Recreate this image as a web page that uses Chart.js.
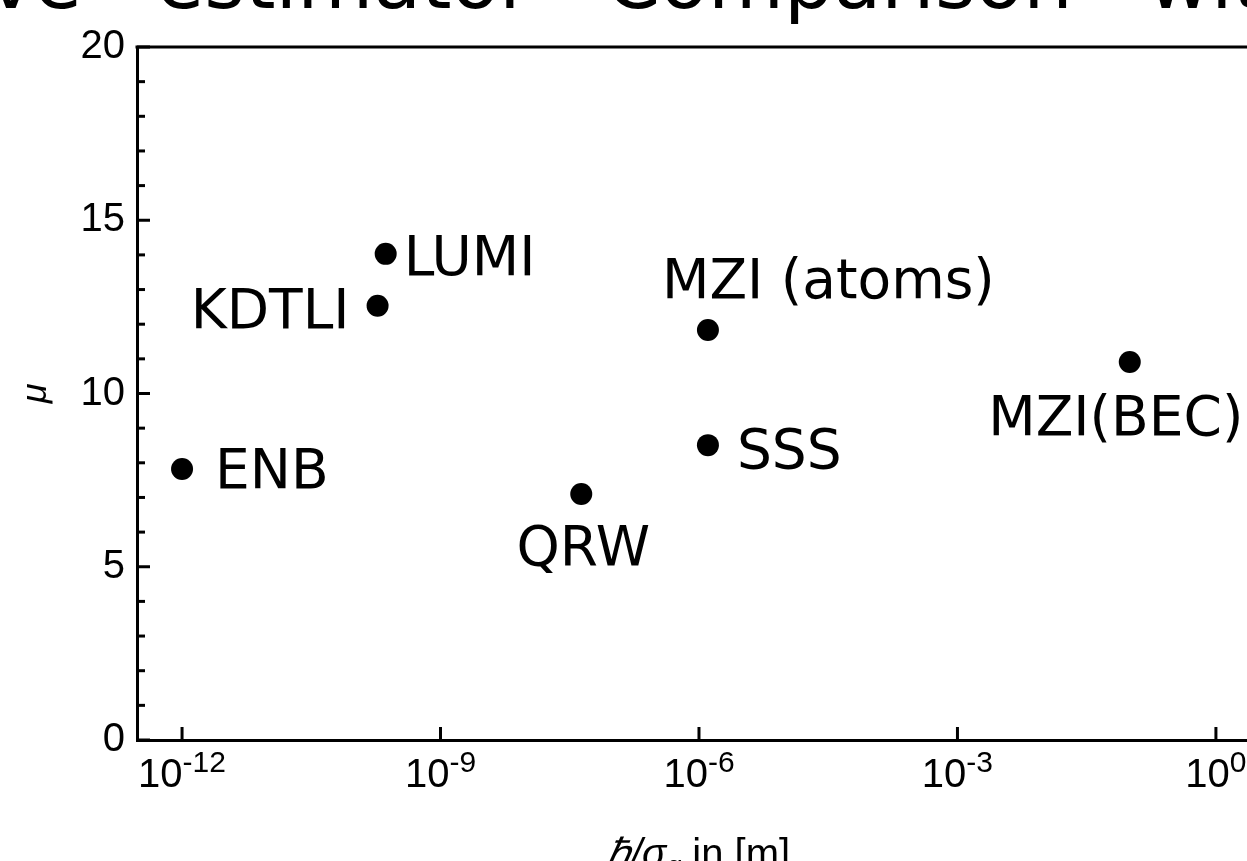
<!DOCTYPE html>
<html>
<head>
<meta charset="utf-8">
<script src="https://cdn.jsdelivr.net/npm/chart.js@4.4.0/dist/chart.umd.min.js"></script>
<style>
  html, body { margin: 0; padding: 0; background: #fff; overflow: hidden; width: 1247px; height: 861px; }
  #wrap { position: absolute; left: -140px; top: -69px; width: 2400px; height: 960px; }
</style>
</head>
<body>
<div id="wrap"><canvas id="c"></canvas></div>
<script>
// Experiments and their (length scale, mu) values
const experiments  = ['ENB', 'KDTLI', 'LUMI', 'QRW', 'MZI (atoms)', 'SSS', 'MZI(BEC)'];
const lengthScale  = [1e-12, 1.86e-10, 2.31e-10, 4.3e-8, 1.27e-6, 1.27e-6, 0.1];
const muValues     = [7.82, 12.53, 14.03, 7.10, 11.83, 8.51, 10.91];

// Axis ticks
const xTickExponents = [-12, -9, -6, -3, 0];
const yMajorStep = 5;
const yMinorStep = 1;

// Label placement relative to each marker (baseline offsets, px)
const labelPlacement = {
  'ENB':         { align: 'left',   dx: 33,  dy: 19 },
  'KDTLI':       { align: 'right',  dx: -28, dy: 22 },
  'LUMI':        { align: 'left',   dx: 18,  dy: 21 },
  'QRW':         { align: 'center', dx: 2,   dy: 71 },
  'MZI (atoms)': { align: 'left',   dx: -46, dy: -32 },
  'SSS':         { align: 'left',   dx: 29,  dy: 23 },
  'MZI(BEC)':    { align: 'center', dx: -14, dy: 73 }
};

const points = lengthScale.map((x, i) => ({ x: x, y: muValues[i] }));

const SANS = "'Liberation Sans', Arial, sans-serif";
const DEJAVU = "'DejaVu Sans', sans-serif";

// Inward tick marks, top frame line, x tick labels, x axis title and point labels
const decorations = {
  id: 'decorations',
  afterDraw(chart) {
    const ctx = chart.ctx;
    const area = chart.chartArea;
    const xs = chart.scales.x;
    const ys = chart.scales.y;
    ctx.save();
    ctx.strokeStyle = '#000';
    ctx.lineWidth = 3;
    ctx.lineCap = 'butt';

    // top frame line
    ctx.beginPath();
    ctx.moveTo(area.left - 1.5, area.top);
    ctx.lineTo(area.right + 1.5, area.top);
    ctx.stroke();

    // y ticks (major + minor), pointing into the plot
    for (let v = ys.min; v <= ys.max + 1e-9; v += yMinorStep) {
      const py = ys.getPixelForValue(v);
      const len = (Math.abs(v % yMajorStep) < 1e-9) ? 13 : 8;
      ctx.beginPath();
      ctx.moveTo(area.left, py);
      ctx.lineTo(area.left + len, py);
      ctx.stroke();
    }

    // x ticks at decades, pointing into the plot
    xTickExponents.forEach(e => {
      const px = xs.getPixelForValue(Math.pow(10, e));
      ctx.beginPath();
      ctx.moveTo(px, area.bottom);
      ctx.lineTo(px, area.bottom - 13);
      ctx.stroke();
    });

    // x tick labels: 10 with a superscript exponent
    ctx.fillStyle = '#000';
    ctx.textBaseline = 'alphabetic';
    ctx.textAlign = 'left';
    const baseFont = '40px ' + SANS;
    const supFont = '30px ' + SANS;
    xTickExponents.forEach(e => {
      const px = xs.getPixelForValue(Math.pow(10, e));
      const base = '10';
      const sup = e < 0 ? '-' + Math.abs(e) : String(e);
      ctx.font = baseFont;
      const wb = ctx.measureText(base).width;
      ctx.font = supFont;
      const ws = ctx.measureText(sup).width;
      const x0 = px - (wb + ws) / 2;
      const yb = area.bottom + 47;
      ctx.font = baseFont;
      ctx.fillText(base, x0, yb);
      ctx.font = supFont;
      ctx.fillText(sup, x0 + wb, yb - 15);
    });

    // x axis title: ħ/σ_q in [m]
    const parts = [
      { t: '\u210F/\u03C3', f: 'italic 40px ' + SANS, dy: 0 },
      { t: 'q', f: 'italic 27px ' + SANS, dy: 8 },
      { t: ' in [m]', f: '40px ' + SANS, dy: 0 }
    ];
    let total = 0;
    parts.forEach(p => { ctx.font = p.f; p.w = ctx.measureText(p.t).width; total += p.w; });
    let tx = (area.left + area.right) / 2 - total / 2;
    const ty = area.bottom + 127;
    parts.forEach(p => { ctx.font = p.f; ctx.fillText(p.t, tx, ty + p.dy); tx += p.w; });

    // point labels
    const meta = chart.getDatasetMeta(0);
    ctx.font = '55px ' + DEJAVU;
    meta.data.forEach((el, i) => {
      const name = experiments[i];
      const pl = labelPlacement[name];
      ctx.textAlign = pl.align;
      ctx.fillText(name, el.x + pl.dx, el.y + pl.dy);
    });
    ctx.restore();
  }
};

new Chart(document.getElementById('c'), {
  type: 'scatter',
  data: {
    datasets: [{
      label: '\u03BC',
      data: points,
      pointRadius: 11,
      pointHoverRadius: 11,
      pointBackgroundColor: '#000',
      pointBorderWidth: 0,
      showLine: false
    }]
  },
  options: {
    responsive: true,
    maintainAspectRatio: false,
    animation: false,
    events: [],
    layout: { padding: 0 },
    plugins: {
      legend: { display: false },
      tooltip: { enabled: false },
      title: {
        display: true,
        text: 'Naive   estimator   Comparison   with   experiments',
        align: 'start',
        color: '#000',
        font: { family: DEJAVU, size: 78, weight: 'normal', lineHeight: 1.2 },
        padding: { top: 10, bottom: 12.4 }
      }
    },
    scales: {
      x: {
        type: 'logarithmic',
        min: Math.pow(10, -12.5),
        max: Math.pow(10, 0.5),
        afterBuildTicks: s => { s.ticks = xTickExponents.map(e => ({ value: Math.pow(10, e) })); },
        afterFit: s => { s.height = 151; },
        ticks: { display: false },
        grid: { display: false, drawTicks: false },
        border: { display: true, color: '#000', width: 3 }
      },
      y: {
        type: 'linear',
        min: 0,
        max: 20,
        afterFit: s => { s.width = 277; },
        ticks: {
          stepSize: yMajorStep,
          padding: 12,
          color: '#000',
          font: { family: SANS, size: 40 }
        },
        grid: { display: false, drawTicks: false },
        border: { display: true, color: '#000', width: 3 },
        title: {
          display: true,
          text: '\u03BC',
          color: '#000',
          font: { family: SANS, size: 36, style: 'italic' },
          padding: { top: 154, bottom: 0 }
        }
      },
      // empty spacer on the right, keeps the plot frame running past the page edge
      spacer: {
        type: 'linear',
        position: 'right',
        display: true,
        afterFit: s => { s.width = 1001; },
        ticks: { display: false },
        grid: { display: false, drawTicks: false },
        border: { display: false }
      }
    }
  },
  plugins: [decorations]
});
</script>
</body>
</html>
